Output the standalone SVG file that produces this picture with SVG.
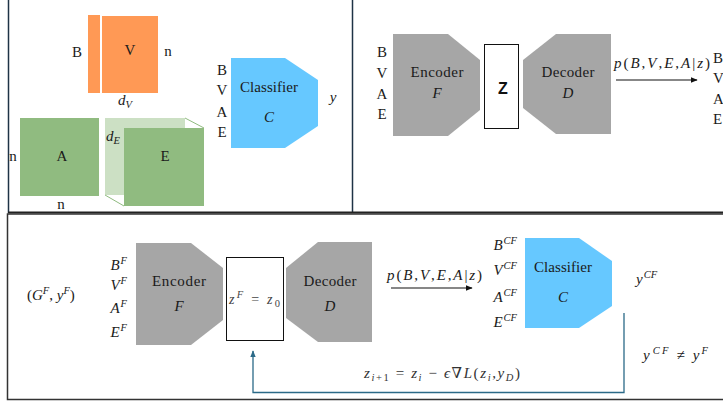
<svg xmlns="http://www.w3.org/2000/svg" width="723" height="403" viewBox="0 0 723 403" font-family="'Liberation Serif', 'DejaVu Serif', serif">
<defs>
<style>
text{font-family:"Liberation Serif","DejaVu Serif",serif}
.t{font-size:15px;fill:#1a1a1a}
.m{font-style:italic}
.c{text-anchor:middle}
.e{text-anchor:end}
.sup{font-size:10.5px}
.gray{fill:#a6a6a6}
.blue{fill:#66c8ff}
.frame{fill:none;stroke:#1e3346;stroke-width:1.5}
</style>
<marker id="ah" viewBox="0 0 10 10" refX="9" refY="5" markerWidth="7" markerHeight="7" markerUnits="userSpaceOnUse" orient="auto">
<path d="M0,1 L10,5 L0,9 z" fill="#111"/>
</marker>
<marker id="ahb" viewBox="0 0 10 10" refX="9" refY="5" markerWidth="7" markerHeight="7" markerUnits="userSpaceOnUse" orient="auto">
<path d="M0,1 L10,5 L0,9 z" fill="#2b6a88"/>
</marker>
</defs>
<rect width="723" height="403" fill="#fff"/>

<g id="frames">
<line x1="8.5" y1="0" x2="8.5" y2="213" class="frame"/>
<line x1="352.5" y1="0" x2="352.5" y2="213" class="frame"/>
<line x1="8" y1="212.5" x2="723" y2="212.5" stroke="#222" stroke-width="1.8"/>
<path d="M723,214 H7.5 V399.5 H723" fill="none" stroke="#333" stroke-width="1.5"/>
</g>

<!-- Top-left panel -->
<g id="matrixV">
<rect x="88" y="15" width="12" height="78" fill="#ff9955"/>
<rect x="102" y="16" width="56" height="77" fill="#ff9955"/>
<text class="t c" x="130" y="55">V</text>
<text class="t c" x="77" y="57">B</text>
<text class="t c" x="168" y="56">n</text>
<text class="t m" x="118" y="105">d<tspan class="sup" dy="3">V</tspan></text>
</g>

<g id="matrixA">
<rect x="20" y="118" width="79" height="78" fill="#90bb80"/>
<text class="t c" x="62" y="161">A</text>
<text class="t c" x="13" y="161">n</text>
<text class="t c" x="61" y="209">n</text>
</g>

<g id="tensorE">
<rect x="105" y="118" width="80" height="77" fill="#cce0c4"/>
<path d="M185,118 L204,128 M105,195 L124,206" stroke="#90bb80" stroke-width="1" fill="none"/>
<rect x="124" y="128" width="80" height="78" fill="#90bb80"/>
<text class="t c" x="165" y="161">E</text>
<text class="t m" x="106" y="141">d<tspan class="sup" dy="3">E</tspan></text>
</g>

<g id="classifier1">
<polygon points="231,58 285,58 318,80 318,126 285,148 231,148" class="blue"/>
<text class="t c" x="269" y="92" textLength="58">Classifier</text>
<text class="t c m" x="269" y="122">C</text>
<text class="t c" x="222" y="75">B</text>
<text class="t c" x="222" y="95">V</text>
<text class="t c" x="222" y="117">A</text>
<text class="t c" x="222" y="137">E</text>
<text class="t m c" x="333" y="102">y</text>
</g>

<!-- Top-right panel -->
<g id="encoder1">
<polygon points="393,34 448,34 480,60 480,110 448,136 393,136" class="gray"/>
<text class="t c" x="437" y="77" textLength="53">Encoder</text>
<text class="t c m" x="437" y="98">F</text>
<text class="t c" x="382" y="57">B</text>
<text class="t c" x="382" y="78">V</text>
<text class="t c" x="382" y="99">A</text>
<text class="t c" x="382" y="119">E</text>
</g>

<g id="latentZ">
<rect x="484.5" y="44.5" width="34" height="84" fill="#fff" stroke="#111" stroke-width="1"/>
<text x="503" y="94" text-anchor="middle" style="font-family:'Liberation Sans',Arial,sans-serif" font-size="16" font-weight="bold" fill="#111">Z</text>
</g>

<g id="decoder1">
<polygon points="523,60 556,34 611,34 611,134 556,134 523,108" class="gray"/>
<text class="t c" x="568" y="77" textLength="53">Decoder</text>
<text class="t c m" x="568" y="98">D</text>
</g>

<g id="output1">
<text class="t" x="713" y="63">B</text>
<text class="t" x="713" y="83">V</text>
<text class="t" x="713" y="104">A</text>
<text class="t" x="713" y="124">E</text>
</g>

<!-- Bottom panel -->
<g id="input2">
<text class="t" x="27" y="300">(<tspan class="m">G</tspan><tspan class="sup m" dy="-6">F</tspan><tspan dy="6">, </tspan><tspan class="m">y</tspan><tspan class="sup m" dy="-6">F</tspan><tspan dy="6">)</tspan></text>
<text class="t e" x="127" y="270"><tspan class="m">B</tspan><tspan class="sup m" dx="1" dy="-6">F</tspan></text>
<text class="t e" x="127" y="290"><tspan class="m">V</tspan><tspan class="sup m" dx="1" dy="-6">F</tspan></text>
<text class="t e" x="127" y="313"><tspan class="m">A</tspan><tspan class="sup m" dx="1" dy="-6">F</tspan></text>
<text class="t e" x="127" y="337"><tspan class="m">E</tspan><tspan class="sup m" dx="1" dy="-6">F</tspan></text>
</g>

<g id="encoder2">
<polygon points="136,243 191,243 223,268 223,320 191,345 136,345" class="gray"/>
<text class="t c" x="179" y="286" textLength="54">Encoder</text>
<text class="t c m" x="179" y="311">F</text>
</g>

<g id="latentZF">
<rect x="226.5" y="257.5" width="57" height="83" fill="#fff" stroke="#111" stroke-width="1"/>
<text class="t" x="229" y="304" textLength="51" style="font-size:14px;fill:#444"><tspan class="m">z</tspan><tspan class="sup m" dy="-6">F</tspan><tspan dy="6"> = </tspan><tspan class="m">z</tspan><tspan class="sup" dy="3">0</tspan></text>
</g>

<g id="decoder2">
<polygon points="286,268 318,242 372,242 372,342 318,342 286,318" class="gray"/>
<text class="t c" x="330" y="286" textLength="53">Decoder</text>
<text class="t c m" x="330" y="311">D</text>
</g>

<g id="output2">
<text class="t e" x="517" y="250"><tspan class="m">B</tspan><tspan class="sup m" dx="1" dy="-6">CF</tspan></text>
<text class="t e" x="517" y="275"><tspan class="m">V</tspan><tspan class="sup m" dx="1" dy="-6">CF</tspan></text>
<text class="t e" x="517" y="302"><tspan class="m">A</tspan><tspan class="sup m" dx="1" dy="-6">CF</tspan></text>
<text class="t e" x="517" y="327"><tspan class="m">E</tspan><tspan class="sup m" dx="1" dy="-6">CF</tspan></text>
</g>

<g id="classifier2">
<polygon points="525,238 579,238 612,261 612,306 579,328 525,328" class="blue"/>
<text class="t c" x="563" y="272" textLength="58">Classifier</text>
<text class="t c m" x="563" y="302">C</text>
<text class="t" x="636" y="284"><tspan class="m">y</tspan><tspan class="sup m" dx="1" dy="-6">CF</tspan></text>
<text class="t" x="643" y="360" textLength="65"><tspan class="m">y</tspan><tspan class="sup m" dx="1" dy="-6">CF</tspan><tspan dy="6"> ≠ </tspan><tspan class="m">y</tspan><tspan class="sup m" dy="-6">F</tspan></text>
</g>

<g id="connectors">
<line x1="616" y1="80" x2="697" y2="80" stroke="#111" stroke-width="1.2" marker-end="url(#ah)"/>
<line x1="391" y1="288" x2="472" y2="288" stroke="#111" stroke-width="1.2" marker-end="url(#ah)"/>
<path d="M624,313 V392.5 H253 V351" fill="none" stroke="#2b6a88" stroke-width="1.3" marker-end="url(#ahb)"/>
</g>

<g id="labels">
<text class="t" x="614" y="68" textLength="96"><tspan class="m">p</tspan>(<tspan class="m">B</tspan>,<tspan class="m">V</tspan>,<tspan class="m">E</tspan>,<tspan class="m">A</tspan>|<tspan class="m">z</tspan>)</text>
<text class="t" x="387" y="280" textLength="95"><tspan class="m">p</tspan>(<tspan class="m">B</tspan>,<tspan class="m">V</tspan>,<tspan class="m">E</tspan>,<tspan class="m">A</tspan>|<tspan class="m">z</tspan>)</text>
<text class="t" x="364" y="378" textLength="156" style="fill:#333"><tspan class="m">z</tspan><tspan class="sup" dy="3"><tspan class="m">i</tspan>+1</tspan><tspan dy="-3"> = </tspan><tspan class="m">z</tspan><tspan class="sup m" dy="3">i</tspan><tspan dy="-3"> − </tspan><tspan class="m">ϵ</tspan>∇<tspan class="m">L</tspan>(<tspan class="m">z</tspan><tspan class="sup m" dy="3">i</tspan><tspan dy="-3">,</tspan><tspan class="m">y</tspan><tspan class="sup m" dy="3">D</tspan><tspan dy="-3">)</tspan></text>
</g>
</svg>
